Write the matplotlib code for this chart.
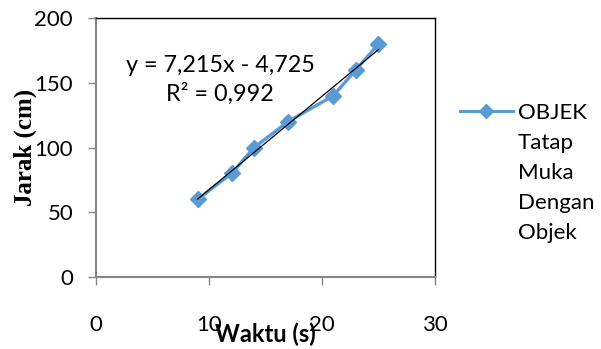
import matplotlib.pyplot as plt
from matplotlib.lines import Line2D

waktu = [9, 12, 14, 17, 21, 23, 25]
jarak = [60, 80, 100, 120, 140, 160, 180]
trend_x = [9, 25]
slope = 7.215
intercept = -4.725
eq_text = "y = 7,215x - 4,725\nR² = 0,992"
legend_lines = ["OBJEK", "Tatap", "Muka", "Dengan", "Objek"]
xticks = [0, 10, 20, 30]
yticks = [0, 50, 100, 150, 200]

BLUE = "#5B9BD5"
GRAY = "#868686"

plt.rcParams["font.family"] = ["Lato", "DejaVu Sans"]

fig = plt.figure(figsize=(6.01, 3.49), dpi=100)
ax = fig.add_axes([0.1597, 0.2063, 0.5641, 0.7421])

line, = ax.plot(waktu, jarak, color=BLUE, lw=2.4, marker="D", ms=8.5)

# linear trendline
ax.plot(trend_x, [slope * x + intercept for x in trend_x], color="black", lw=0.9)
ax.text(11.0, 152, eq_text, ha="center", va="center", fontsize=16.8, linespacing=1.35)

ax.set_xlim(0, 30)
ax.set_ylim(0, 200)
ax.set_xticks(xticks)
ax.set_yticks(yticks)
ax.tick_params(axis="both", labelsize=16, color=GRAY, length=5.5, width=1)
ax.tick_params(axis="x", pad=22)
ax.tick_params(axis="y", pad=11)

for s in ["left", "bottom"]:
    ax.spines[s].set_color(GRAY)
    ax.spines[s].set_linewidth(1.5)
for s in ["top", "right"]:
    ax.spines[s].set_color("black")
    ax.spines[s].set_linewidth(1.0)

ax.set_xlabel("Waktu (s)", fontsize=17, fontweight="bold")
ax.xaxis.set_label_coords(0.5, -0.175)
ax.set_ylabel("Jarak (cm)", fontsize=18, fontweight="bold", family="Liberation Serif")
ax.yaxis.set_label_coords(-0.175, 0.5)

# legend: marker on first line only, label wrapped over several lines
leg_handle = Line2D([], [], color=BLUE, lw=2.2, marker="D", ms=7)
blank = Line2D([], [], linestyle="none")
handles = [leg_handle] + [blank] * (len(legend_lines) - 1)
ax.legend(handles, legend_lines, loc="upper left", bbox_to_anchor=(1.047, 0.708),
          frameon=False, fontsize=16, handlelength=2.4, handletextpad=0.2,
          borderaxespad=0, labelspacing=0.45)

fig.savefig("out.png", dpi=100)
